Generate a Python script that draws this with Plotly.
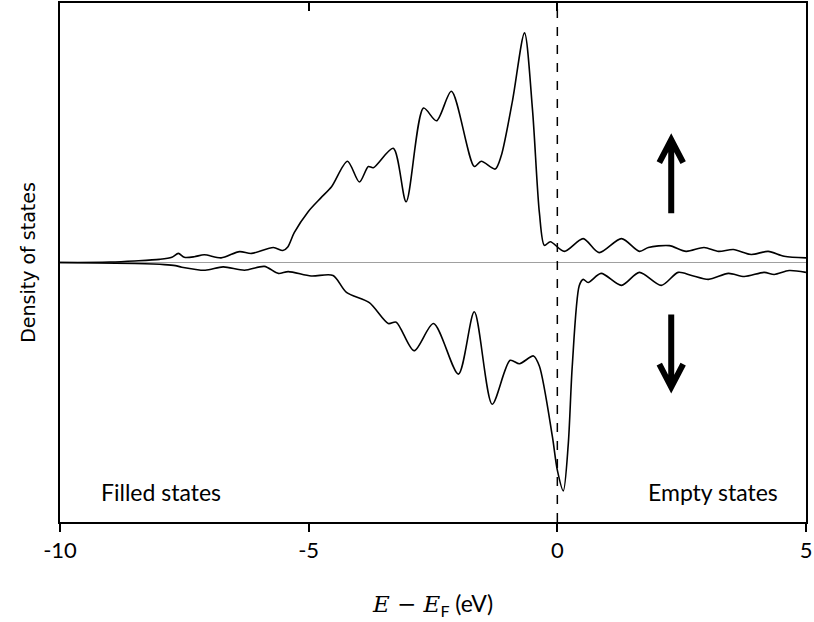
import plotly.graph_objects as go

# Energy grid (eV) and DOS values (arbitrary units)
e_up = [-10.0, -9.0, -8.5, -8.0, -7.75, -7.62, -7.5, -7.3, -7.10, -6.76, -6.39, -6.15,
        -5.71, -5.52, -5.42, -5.29, -5.01, -4.75, -4.54, -4.22, -3.98, -3.80, -3.70,
        -3.30, -3.04, -2.69, -2.43, -2.13, -1.67, -1.53, -1.25, -1.13, -0.9, -0.66,
        -0.5, -0.36, -0.26, -0.14, 0.14, 0.52, 0.84, 1.29, 1.65, 1.83, 2.25, 2.59,
        2.95, 3.24, 3.54, 3.90, 4.24, 4.56, 5.0]
dos_up = [0.0, 0.002, 0.006, 0.012, 0.02, 0.035, 0.02, 0.022, 0.03, 0.018, 0.042, 0.035,
          0.058, 0.046, 0.06, 0.115, 0.196, 0.25, 0.292, 0.39, 0.31, 0.37, 0.365,
          0.44, 0.234, 0.595, 0.546, 0.66, 0.37, 0.39, 0.36, 0.41, 0.625, 0.885,
          0.59, 0.19, 0.066, 0.08, 0.043, 0.092, 0.038, 0.092, 0.043, 0.058, 0.065, 0.043,
          0.058, 0.043, 0.05, 0.031, 0.043, 0.024, 0.018]

e_dn = [-10.0, -8.5, -7.9, -7.68, -7.55, -7.08, -6.72, -6.29, -5.89, -5.61, -5.41, -4.95,
        -4.51, -4.24, -3.78, -3.40, -3.24, -2.88, -2.49, -1.99, -1.67, -1.31, -0.95,
        -0.76, -0.48, -0.36, -0.1, 0.0, 0.12, 0.22, 0.3, 0.44, 0.52, 0.62, 0.88, 1.29,
        1.65, 2.09, 2.43, 2.7, 3.04, 3.44, 3.76, 4.16, 4.36, 4.66, 5.0]
dos_dn = [0.0, -0.004, -0.008, -0.012, -0.018, -0.03, -0.017, -0.03, -0.015, -0.042, -0.035, -0.052,
          -0.05, -0.115, -0.155, -0.235, -0.23, -0.34, -0.235, -0.43, -0.19, -0.546, -0.377,
          -0.39, -0.36, -0.40, -0.67, -0.80, -0.88, -0.70, -0.40, -0.09, -0.065, -0.077, -0.042, -0.088,
          -0.038, -0.088, -0.038, -0.05, -0.065, -0.042, -0.054, -0.038, -0.046, -0.031, -0.038]

x_ticks = [-10, -5, 0, 5]
x_tick_labels = ["-10", "-5", "0", "5"]

FONT = "Lato"

fig = go.Figure()
fig.add_trace(go.Scatter(x=e_up, y=dos_up, mode="lines",
                         line=dict(color="black", width=1.6, shape="spline", smoothing=0.8),
                         showlegend=False, hoverinfo="skip"))
fig.add_trace(go.Scatter(x=e_dn, y=dos_dn, mode="lines",
                         line=dict(color="black", width=1.6, shape="spline", smoothing=0.8),
                         showlegend=False, hoverinfo="skip"))
# invisible trace for the top (inside-tick) axis
fig.add_trace(go.Scatter(x=[-10, 5], y=[0, 0], xaxis="x2", mode="lines",
                         line=dict(width=0), showlegend=False, hoverinfo="skip"))

# zero line and Fermi level
fig.add_shape(type="line", xref="paper", x0=0, x1=1, yref="y", y0=0, y1=0,
              line=dict(color="#a0a0a0", width=1.2), layer="below")
fig.add_shape(type="line", xref="x", x0=0, x1=0, yref="paper", y0=0, y1=1,
              line=dict(color="black", width=1.5, dash="dash"))

# spin arrows
ax_x = 2.29
dx = 0.24
fig.add_shape(type="path", xref="x", yref="y",
              path=f"M {ax_x},0.19 L {ax_x},0.465 M {ax_x-dx},0.385 L {ax_x},0.473 L {ax_x+dx},0.385",
              line=dict(color="black", width=6))
fig.add_shape(type="path", xref="x", yref="y",
              path=f"M {ax_x},-0.2 L {ax_x},-0.472 M {ax_x-dx},-0.392 L {ax_x},-0.48 L {ax_x+dx},-0.392",
              line=dict(color="black", width=6))

fig.add_annotation(x=-9.22, y=-0.885, xref="x", yref="y", text="Filled states",
                   showarrow=False, xanchor="left", yanchor="middle",
                   font=dict(family=FONT, size=23, color="black"))
fig.add_annotation(x=4.47, y=-0.885, xref="x", yref="y", text="Empty states",
                   showarrow=False, xanchor="right", yanchor="middle",
                   font=dict(family=FONT, size=23, color="black"))

fig.update_layout(
    width=814, height=622,
    margin=dict(l=60, r=8, t=3, b=100),
    paper_bgcolor="white", plot_bgcolor="white",
    font=dict(family=FONT, size=21, color="black"),
    xaxis=dict(range=[-10, 5], tickvals=x_ticks, ticktext=x_tick_labels,
               ticks="outside", ticklen=8, tickwidth=1.5, tickcolor="black",
               tickfont=dict(size=22),
               showline=True, linecolor="black", linewidth=1.5, mirror=False,
               showgrid=False, zeroline=False,
               title=dict(text="<span style='font-family:DejaVu Serif'><i>E</i> − <i>E</i></span><sub>F</sub> (eV)",
                          standoff=34, font=dict(size=23))),
    xaxis2=dict(range=[-10, 5], overlaying="x", side="top", anchor="y",
                tickvals=x_ticks, ticks="inside", ticklen=8, tickwidth=1.5, tickcolor="black",
                showticklabels=False, showline=True, linecolor="black", linewidth=1.5,
                showgrid=False, zeroline=False),
    yaxis=dict(range=[-1.0, 1.0], showticklabels=False, ticks="",
               showline=True, linecolor="black", linewidth=1.5, mirror=True,
               showgrid=False, zeroline=False,
               title=dict(text="Density of states", standoff=18,
                          font=dict(family="DejaVu Sans", size=19))),
)

fig.write_html("out.html")
